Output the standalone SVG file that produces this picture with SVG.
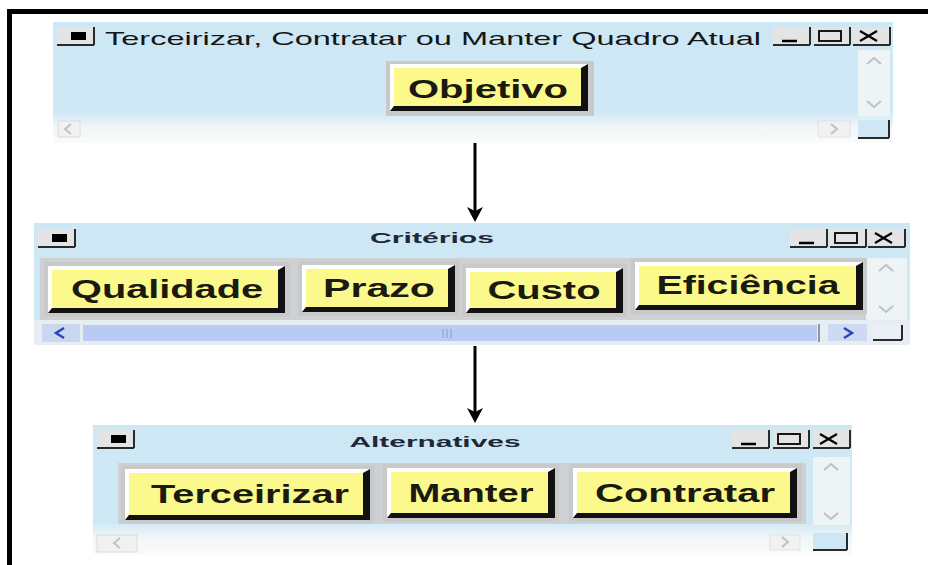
<svg xmlns="http://www.w3.org/2000/svg" xmlns:xlink="http://www.w3.org/1999/xlink" width="928" height="565" viewBox="0 0 928 565">
<style>
  .win { fill: #cfe8f6; }
  .tbar { fill: #cde7f5; }
  .panel { fill: #cdd1d4; }
  .frame { fill: #c9c9c9; }
  .shadow { fill: #111111; }
  .hi { fill: #ffffff; }
  .face { fill: #fbf98c; }
  .btxt { font-family: "Liberation Sans", Arial, sans-serif; font-weight: bold; font-size: 25px; fill: #1a1a10; text-anchor: middle; }
  .wtitle { font-family: "Liberation Sans", Arial, sans-serif; font-weight: bold; font-size: 15px; fill: #1f2838; text-anchor: middle; }
  .wtitle1 { font-family: "Liberation Sans", Arial, sans-serif; font-size: 19px; fill: #161616; }
  .cbox { fill: #e4e4e4; }
  .cedge { stroke: #2a2a2a; stroke-width: 2; fill: none; }
  .chev { fill: none; stroke: #b9c3c8; stroke-width: 2; }
  .chevb { fill: none; stroke: #2a44b8; stroke-width: 2.5; }
  .conn { stroke: #000; stroke-width: 3; fill: none; }
</style>
<defs>
  <linearGradient id="fade" x1="0" y1="0" x2="0" y2="1">
    <stop offset="0" stop-color="#d3eaf6"/>
    <stop offset="0.45" stop-color="#f1f6f8"/>
    <stop offset="1" stop-color="#fbfbfb"/>
  </linearGradient>
  <marker id="arrow" markerWidth="16" markerHeight="16" refX="9" refY="8" orient="auto" markerUnits="userSpaceOnUse" viewBox="0 0 16 16">
    <path d="M0,0 L15,8 L0,16 L4,8 Z" fill="#000"/>
  </marker>
  <g id="ic-menu">
    <rect class="cbox" x="0" y="0" width="38" height="18"/>
    <path class="cedge" d="M37,0 V18 M0,18 H37"/>
    <rect x="14" y="5" width="15" height="8" fill="#000"/>
  </g>
  <g id="ic-min">
    <rect class="cbox" x="0" y="0" width="38" height="18"/>
    <path class="cedge" d="M37,0 V18 M0,18 H37"/>
    <line x1="9" y1="14" x2="24" y2="14" stroke="#000" stroke-width="2.5"/>
  </g>
  <g id="ic-max">
    <rect class="cbox" x="0" y="0" width="37" height="18"/>
    <path class="cedge" d="M36,0 V18 M0,18 H36"/>
    <rect x="5" y="4" width="22" height="10" fill="none" stroke="#000" stroke-width="1.8"/>
  </g>
  <g id="ic-close">
    <rect class="cbox" x="0" y="0" width="38" height="18"/>
    <path class="cedge" d="M37,0 V18 M0,18 H37"/>
    <path d="M7,4 L24,14 M7,14 L24,4" stroke="#000" stroke-width="2.2"/>
  </g>
  <polyline id="ch-up" class="chev" points="-7,3 0,-3 7,3"/>
  <polyline id="ch-down" class="chev" points="-7,-3 0,3 7,-3"/>
  <polyline id="ch-left" class="chev" points="3,-5 -3,0 3,5"/>
  <polyline id="ch-right" class="chev" points="-3,-5 3,0 -3,5"/>
</defs>

<rect x="0" y="0" width="928" height="565" fill="#ffffff"/>
<!-- outer frame -->
<path d="M9.5,570 V11.5 H932" fill="none" stroke="#000" stroke-width="5"/>

<!-- Window 1 -->
<g id="win-objetivo">
  <rect class="win" x="53" y="22" width="840" height="121"/>
  <rect class="tbar" x="53" y="22" width="840" height="28"/>
  <rect x="53" y="114" width="840" height="29" fill="url(#fade)"/>
  <rect x="858" y="50" width="32" height="66" fill="#eef4f6"/>
  <use xlink:href="#ch-up" x="874" y="61"/>
  <use xlink:href="#ch-down" x="874" y="104"/>
  <use xlink:href="#ic-menu" x="57" y="27"/>
  <text class="wtitle1" x="105" y="45" textLength="656" lengthAdjust="spacingAndGlyphs">Terceirizar, Contratar ou Manter Quadro Atual</text>
  <use xlink:href="#ic-min" x="773" y="27"/>
  <use xlink:href="#ic-max" x="814" y="27"/>
  <use xlink:href="#ic-close" x="853" y="27"/>
  <rect x="58" y="121" width="22" height="16" fill="#f1f1f1" stroke="#dadada"/>
  <use xlink:href="#ch-left" x="68" y="129"/>
  <rect x="818" y="121" width="32" height="16" fill="#f1f1f1" stroke="#e2e2e2"/>
  <use xlink:href="#ch-right" x="834" y="129"/>
  <rect x="858" y="120" width="32" height="18" fill="#cfe6f5"/>
  <path class="cedge" d="M889,120 V138 M858,138 H889"/>
</g>

<g id="node-objetivo">
  <rect class="frame" x="386" y="61" width="208" height="55"/>
  <rect class="shadow" x="390" y="64" width="198" height="47"/>
  <polygon class="hi" points="390,64 588,64 581,68 394,68 394,106 390,111"/>
  <rect class="face" x="394" y="68" width="187" height="38"/>
  <text class="btxt" x="488" y="98" textLength="160" lengthAdjust="spacingAndGlyphs">Objetivo</text>
</g>

<!-- Window 2 -->
<g id="win-criterios">
  <rect class="win" x="34" y="223" width="876" height="122"/>
  <rect class="tbar" x="34" y="223" width="876" height="35"/>
  <rect class="panel" x="40" y="258" width="826" height="62"/>
  <rect x="866" y="258" width="41" height="62" fill="#eef3f6"/>
  <use xlink:href="#ch-up" x="886" y="268"/>
  <use xlink:href="#ch-down" x="886" y="309"/>
  <rect x="34" y="320" width="876" height="25" fill="#e6edf3"/>
  <use xlink:href="#ic-menu" x="38" y="229"/>
  <text class="wtitle" x="432" y="243" textLength="124" lengthAdjust="spacingAndGlyphs">Critérios</text>
  <use xlink:href="#ic-min" x="790" y="229"/>
  <use xlink:href="#ic-max" x="830" y="229"/>
  <use xlink:href="#ic-close" x="868" y="229"/>
  <rect x="42" y="324" width="38" height="18" fill="#cad7f0"/>
  <polyline class="chevb" points="64,328 56,333 64,338"/>
  <rect x="83" y="325" width="734" height="16" fill="#b9cbf2"/>
  <line x1="819" y1="324" x2="819" y2="342" stroke="#777" stroke-width="1.5"/>
  <path d="M443,329 V338 M447,329 V338 M451,329 V338" stroke="#8b9bc8" stroke-width="1"/>
  <rect x="828" y="324" width="39" height="17" fill="#cddaf2"/>
  <polyline class="chevb" points="844,328 852,333 844,338"/>
  <rect x="873" y="325" width="30" height="15" fill="#eaf0f5"/>
  <path class="cedge" d="M902,325 V340 M873,340 H902"/>
</g>

<g id="node-qualidade">
  <rect class="frame" x="44" y="262" width="246" height="55"/>
  <rect class="shadow" x="48" y="266" width="237" height="47"/>
  <polygon class="hi" points="48,266 285,266 278,270 52,270 52,308 48,313"/>
  <rect class="face" x="52" y="270" width="226" height="38"/>
  <text class="btxt" x="167" y="298" textLength="192" lengthAdjust="spacingAndGlyphs">Qualidade</text>
</g>
<g id="node-prazo">
  <rect class="frame" x="298" y="261" width="161" height="55"/>
  <rect class="shadow" x="302" y="265" width="153" height="47"/>
  <polygon class="hi" points="302,265 455,265 448,269 306,269 306,307 302,312"/>
  <rect class="face" x="306" y="269" width="142" height="38"/>
  <text class="btxt" x="379" y="297" textLength="112" lengthAdjust="spacingAndGlyphs">Prazo</text>
</g>
<g id="node-custo">
  <rect class="frame" x="462" y="264" width="165" height="53"/>
  <rect class="shadow" x="466" y="268" width="157" height="45"/>
  <polygon class="hi" points="466,268 623,268 616,272 470,272 470,308 466,313"/>
  <rect class="face" x="470" y="272" width="146" height="36"/>
  <text class="btxt" x="544" y="299" textLength="113" lengthAdjust="spacingAndGlyphs">Custo</text>
</g>
<g id="node-eficiencia">
  <rect class="frame" x="631" y="258" width="236" height="56"/>
  <rect class="shadow" x="635" y="262" width="228" height="48"/>
  <polygon class="hi" points="635,262 863,262 856,266 639,266 639,305 635,310"/>
  <rect class="face" x="639" y="266" width="217" height="39"/>
  <text class="btxt" x="748" y="294" textLength="183" lengthAdjust="spacingAndGlyphs">Eficiência</text>
</g>

<!-- Window 3 -->
<g id="win-alternatives">
  <rect class="win" x="93" y="425" width="759" height="130"/>
  <rect class="tbar" x="93" y="425" width="759" height="30"/>
  <rect class="panel" x="118" y="463" width="688" height="62"/>
  <rect x="93" y="524" width="759" height="31" fill="url(#fade)"/>
  <rect x="813" y="457" width="37" height="68" fill="#eef3f6"/>
  <use xlink:href="#ch-up" x="831" y="467"/>
  <use xlink:href="#ch-down" x="831" y="516"/>
  <use xlink:href="#ic-menu" x="97" y="430"/>
  <text class="wtitle" x="435" y="447" textLength="171" lengthAdjust="spacingAndGlyphs">Alternatives</text>
  <use xlink:href="#ic-min" x="732" y="430"/>
  <use xlink:href="#ic-max" x="773" y="430"/>
  <use xlink:href="#ic-close" x="813" y="430"/>
  <rect x="97" y="535" width="40" height="17" fill="#f1f1f1" stroke="#dadada"/>
  <use xlink:href="#ch-left" x="117" y="543"/>
  <rect x="770" y="535" width="30" height="15" fill="#f1f1f1" stroke="#e2e2e2"/>
  <use xlink:href="#ch-right" x="785" y="542"/>
  <rect x="813" y="533" width="35" height="17" fill="#cfe6f5"/>
  <path class="cedge" d="M847,533 V550 M813,550 H847"/>
</g>

<g id="node-terceirizar">
  <rect class="frame" x="121" y="465" width="253" height="58"/>
  <rect class="shadow" x="125" y="469" width="245" height="51"/>
  <polygon class="hi" points="125,469 370,469 363,473 129,473 129,515 125,520"/>
  <rect class="face" x="129" y="473" width="234" height="42"/>
  <text class="btxt" x="250" y="503" textLength="198" lengthAdjust="spacingAndGlyphs">Terceirizar</text>
</g>
<g id="node-manter">
  <rect class="frame" x="383" y="464" width="176" height="58"/>
  <rect class="shadow" x="387" y="468" width="168" height="50"/>
  <polygon class="hi" points="387,468 555,468 548,472 391,472 391,513 387,518"/>
  <rect class="face" x="391" y="472" width="157" height="41"/>
  <text class="btxt" x="471" y="502" textLength="125" lengthAdjust="spacingAndGlyphs">Manter</text>
</g>
<g id="node-contratar">
  <rect class="frame" x="569" y="464" width="233" height="58"/>
  <rect class="shadow" x="573" y="468" width="224" height="50"/>
  <polygon class="hi" points="573,468 797,468 790,472 577,472 577,513 573,518"/>
  <rect class="face" x="577" y="472" width="213" height="41"/>
  <text class="btxt" x="685" y="502" textLength="180" lengthAdjust="spacingAndGlyphs">Contratar</text>
</g>

<!-- connectors -->
<g id="connectors">
  <line class="conn" x1="475" y1="143" x2="475" y2="216" marker-end="url(#arrow)"/>
  <line class="conn" x1="475" y1="346" x2="475" y2="417" marker-end="url(#arrow)"/>
</g>
</svg>
